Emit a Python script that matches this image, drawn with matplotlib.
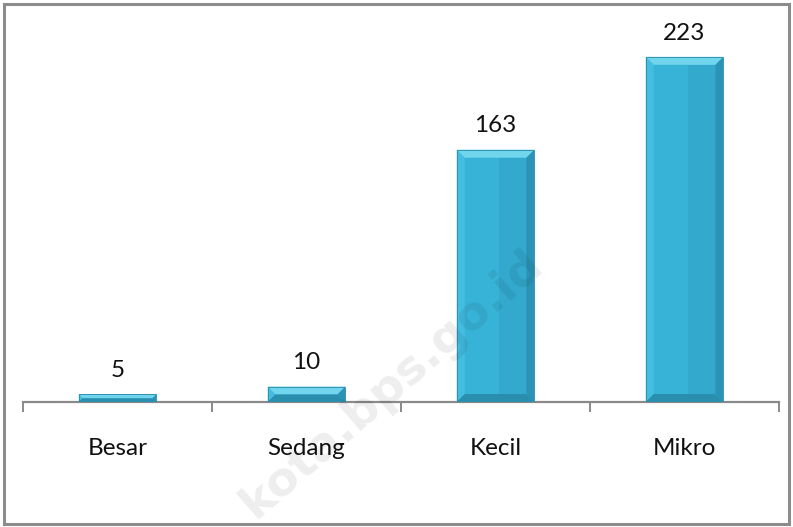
import matplotlib
matplotlib.use("Agg")
import matplotlib.pyplot as plt
from matplotlib.patches import Polygon, Rectangle

categories = ["Besar", "Sedang", "Kecil", "Mikro"]
values = [5, 10, 163, 223]

W, H, DPI = 793, 527, 100
fig = plt.figure(figsize=(W / DPI, H / DPI), dpi=DPI)
fig.patch.set_facecolor("white")

# axes geometry in pixels
ax_left, ax_right = 23, 779
ax_bottom_px = 402
ax_top_px = 15
ax = fig.add_axes([ax_left / W, 1 - ax_bottom_px / H,
                   (ax_right - ax_left) / W, (ax_bottom_px - ax_top_px) / H])
ax.set_xlim(-0.5, len(categories) - 0.5)
ymax = 250
ax.set_ylim(0, ymax)

x = list(range(len(categories)))
bw = 0.41
bars = ax.bar(x, values, width=bw, color="#38b3d8", edgecolor="none", zorder=2)

# bevel decoration derived from each bar
px_x = (len(categories)) / (ax_right - ax_left)   # data units per pixel (x)
px_y = ymax / (ax_bottom_px - ax_top_px)           # data units per pixel (y)
for b in bars:
    x0, w, h = b.get_x(), b.get_width(), b.get_height()
    bx = 8 * px_x
    by = min(8 * px_y, h / 2)
    bxe = bx * (by / (8 * px_y))
    # right darker strip
    ax.add_patch(Polygon([[x0 + w - bxe, by], [x0 + w, 0], [x0 + w, h], [x0 + w - bxe, h - by]],
                         closed=True, color="#2b93b5", lw=0, zorder=3))
    # left slightly lighter strip
    ax.add_patch(Polygon([[x0, 0], [x0 + bxe, by], [x0 + bxe, h - by], [x0, h]],
                         closed=True, color="#43bde0", lw=0, zorder=3))
    # inner body shading (darker toward right)
    ax.add_patch(Rectangle((x0 + w * 0.55, by), w * 0.45 - bxe, max(h - 2 * by, 0),
                           color="#33a9cd", lw=0, zorder=3))
    # top bevel light
    ax.add_patch(Polygon([[x0, h], [x0 + w, h], [x0 + w - bxe, h - by], [x0 + bxe, h - by]],
                         closed=True, color="#72d5ee", lw=0, zorder=4))
    # bottom bevel darker
    ax.add_patch(Polygon([[x0, 0], [x0 + w, 0], [x0 + w - bxe, by], [x0 + bxe, by]],
                         closed=True, color="#2a8fae", lw=0, zorder=3))
    # thin dark outline
    ax.add_patch(Rectangle((x0, 0), w, h, fill=False, ec="#2a8aa8", lw=0.6, zorder=5))

font = "Lato"
for xi, v in zip(x, values):
    ax.annotate(str(v), (xi, v), xytext=(0, 9.5), textcoords="offset points",
                ha="center", va="bottom", fontsize=17.5, family=font, color="#111111")

for s in ["top", "right", "left"]:
    ax.spines[s].set_visible(False)
ax.spines["bottom"].set_color("#8a8a8a")
ax.spines["bottom"].set_linewidth(1.6)
ax.set_yticks([])
ax.set_xticks([i - 0.5 for i in range(len(categories) + 1)])
ax.set_xticklabels([])
ax.set_xticks(x, minor=True)
ax.set_xticklabels(categories, minor=True, fontsize=17.5, family=font, color="#111111")
ax.tick_params(axis="x", which="major", length=7, width=1.4, color="#8a8a8a", direction="out")
ax.tick_params(axis="x", which="minor", length=0, pad=26)

# watermark
fig.text(392 / W, 1 - 384 / H, "kota.bps.go.id", rotation=41, ha="center", va="center",
         fontsize=34, fontweight="bold", family="DejaVu Sans", color="black", alpha=0.07,
         zorder=10)

# outer border
fig.add_artist(Rectangle((4 / W, 3 / H), (W - 8) / W, (H - 7) / H, transform=fig.transFigure,
                         fill=False, ec="#8c8c8c", lw=2.2))

fig.savefig("out.png", dpi=DPI, facecolor="white")
